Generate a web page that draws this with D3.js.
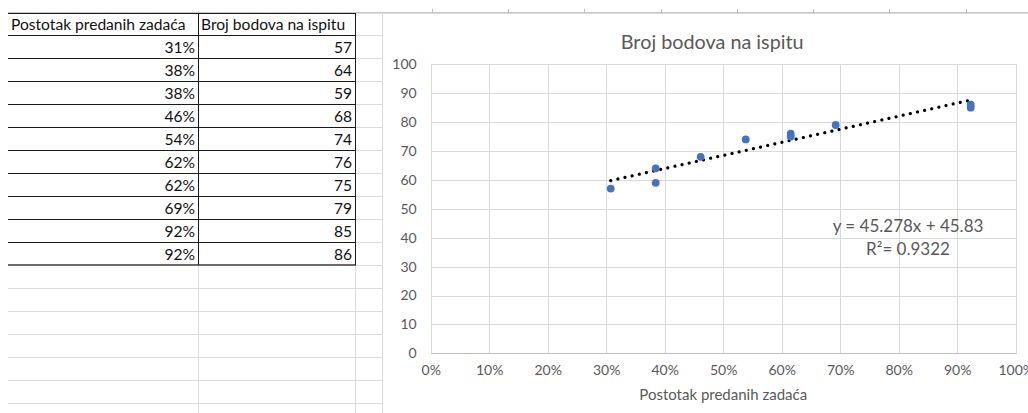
<!DOCTYPE html>
<html>
<head>
<meta charset="utf-8">
<script src="https://cdn.jsdelivr.net/npm/d3@7"></script>
<style>
html,body{margin:0;padding:0;background:#fff;overflow:hidden;}
svg{display:block;}
text{font-family:Lato,"Open Sans",sans-serif;}
</style>
</head>
<body>
<svg id="c" width="1028" height="413"></svg>
<script>
// ---- data ----
const colHeaders = ["Postotak predanih zadaća", "Broj bodova na ispitu"];
const pct   = [0.3077, 0.3846, 0.3846, 0.4615, 0.5385, 0.6154, 0.6154, 0.6923, 0.9231, 0.9231];
const score = [57, 64, 59, 68, 74, 76, 75, 79, 85, 86];
const chartTitle = "Broj bodova na ispitu";
const xAxisTitle = "Postotak predanih zadaća";
const xTicks = [0, 0.1, 0.2, 0.3, 0.4, 0.5, 0.6, 0.7, 0.8, 0.9, 1.0];
const yTicks = [0, 10, 20, 30, 40, 50, 60, 70, 80, 90, 100];
const trendSlope = 45.278;
const trendIntercept = 45.83;
const rSquared = 0.9322;

const svg = d3.select("#c");
const pctFmt = d3.format(".0%");

// ---- spreadsheet grid ----
const rowH = 22.95, topY = 12.5;
const colX = [8, 198, 355, 382.5];
const nTableRows = pct.length + 1;
const rowY = d3.range(0, 18).map(i => topY + i * rowH);
const grid = svg.append("g").attr("shape-rendering", "crispEdges");

rowY.forEach((yy) => {
  grid.append("line").attr("x1", colX[0]).attr("x2", colX[3]).attr("y1", Math.round(yy) + 0.5).attr("y2", Math.round(yy) + 0.5)
    .attr("stroke", "#dcdcdc");
});
[colX[1], colX[2]].forEach(xx => {
  grid.append("line").attr("x1", xx + 0.5).attr("x2", xx + 0.5).attr("y1", topY).attr("y2", 413)
    .attr("stroke", "#dcdcdc");
});
grid.append("line").attr("x1", colX[0]).attr("x2", 1028).attr("y1", 12.5).attr("y2", 12.5).attr("stroke", "#c8c8c8");
[432, 508, 584, 661, 737, 813, 889, 966].forEach(xx => {
  grid.append("line").attr("x1", xx + 0.5).attr("x2", xx + 0.5).attr("y1", 9).attr("y2", 13).attr("stroke", "#bdbdbd");
});

d3.range(0, nTableRows).forEach(i => {
  const yy = Math.round(rowY[i]) + 0.5;
  grid.append("line").attr("x1", colX[0]).attr("x2", colX[2] + 1).attr("y1", yy).attr("y2", yy).attr("stroke", "#1a1a1a");
});
{
  const yb = Math.round(rowY[nTableRows]);
  grid.append("rect").attr("x", colX[0]).attr("y", yb - 1).attr("width", colX[2] + 1 - colX[0]).attr("height", 2).attr("fill", "#6a6a6a");
}
[colX[1], colX[2]].forEach(xx => {
  grid.append("line").attr("x1", xx + 0.5).attr("x2", xx + 0.5).attr("y1", topY).attr("y2", rowY[nTableRows])
    .attr("stroke", "#1a1a1a");
});

const tt = svg.append("g").attr("font-size", 15.6).attr("fill", "#111");
tt.append("text").attr("x", colX[0] + 3).attr("y", topY + rowH / 2 + 0.5).attr("dy", "0.35em").text(colHeaders[0]);
tt.append("text").attr("x", colX[1] + 3).attr("y", topY + rowH / 2 + 0.5).attr("dy", "0.35em").text(colHeaders[1]);
pct.forEach((p, i) => {
  const yc = topY + rowH * (i + 1) + rowH / 2 + 0.5;
  tt.append("text").attr("x", colX[1] - 3).attr("y", yc).attr("dy", "0.36em").attr("text-anchor", "end").text(pctFmt(p));
  tt.append("text").attr("x", colX[2] - 3).attr("y", yc).attr("dy", "0.36em").attr("text-anchor", "end").text(score[i]);
});

// ---- chart ----
svg.append("rect").attr("x", 382.5).attr("y", 13.5).attr("width", 660).attr("height", 410)
  .attr("fill", "#fff").attr("stroke", "#d9d9d9");

const x = d3.scaleLinear().domain([0, 1]).range([430.7, 1015.7]);
const y = d3.scaleLinear().domain([0, 100]).range([353.3, 64.3]);

const gg = svg.append("g").attr("shape-rendering", "crispEdges");
xTicks.forEach(t => {
  gg.append("line").attr("x1", Math.round(x(t)) + 0.5).attr("x2", Math.round(x(t)) + 0.5)
    .attr("y1", y(100)).attr("y2", y(0)).attr("stroke", "#d9d9d9");
});
yTicks.forEach(t => {
  gg.append("line").attr("x1", x(0)).attr("x2", x(1) + 1).attr("y1", Math.round(y(t)) + 0.5).attr("y2", Math.round(y(t)) + 0.5)
    .attr("stroke", t === 0 ? "#bfbfbf" : "#d9d9d9");
});

const yAxis = d3.axisLeft(y).tickValues(yTicks).tickSize(0).tickPadding(14);
const ya = svg.append("g").attr("transform", `translate(${x(0)},0)`).call(yAxis);
ya.select(".domain").remove();
ya.selectAll("text").attr("font-size", 14).attr("fill", "#595959").attr("font-family", "Lato, sans-serif");

const xAxis = d3.axisBottom(x).tickValues(xTicks).tickFormat(d3.format(".0%")).tickSize(0).tickPadding(12);
const xa = svg.append("g").attr("transform", `translate(0,${y(0)})`).call(xAxis);
xa.select(".domain").remove();
xa.selectAll("text").attr("font-size", 14).attr("fill", "#595959").attr("font-family", "Lato, sans-serif");

svg.append("text").attr("x", (x(0) + x(1)) / 2 - 11).attr("y", 42).attr("dy", "0.35em")
  .attr("text-anchor", "middle").attr("font-size", 19.8).attr("fill", "#595959").text(chartTitle);
svg.append("text").attr("x", (x(0) + x(1)) / 2).attr("y", 395).attr("dy", "0.35em")
  .attr("text-anchor", "middle").attr("font-size", 15).attr("fill", "#595959").text(xAxisTitle);

const xMin = d3.min(pct), xMax = d3.max(pct);
svg.append("line")
  .attr("x1", x(xMin)).attr("y1", y(trendSlope * xMin + trendIntercept))
  .attr("x2", x(xMax)).attr("y2", y(trendSlope * xMax + trendIntercept))
  .attr("stroke", "#000").attr("stroke-width", 3.2).attr("stroke-linecap", "round")
  .attr("stroke-dasharray", "0.01 7.3");

svg.append("g").selectAll("circle").data(pct).join("circle")
  .attr("cx", (d) => x(d)).attr("cy", (d, i) => y(score[i])).attr("r", 3.9).attr("fill", "#4472C4");

const eq = svg.append("g").attr("fill", "#595959").attr("font-size", 17).attr("text-anchor", "middle");
eq.append("text").attr("x", 908).attr("y", 226).attr("dy", "0.35em")
  .text(`y = ${trendSlope}x + ${trendIntercept}`);
eq.append("text").attr("x", 908).attr("y", 249).attr("dy", "0.35em")
  .text(`R²= ${rSquared}`);
</script>
</body>
</html>
